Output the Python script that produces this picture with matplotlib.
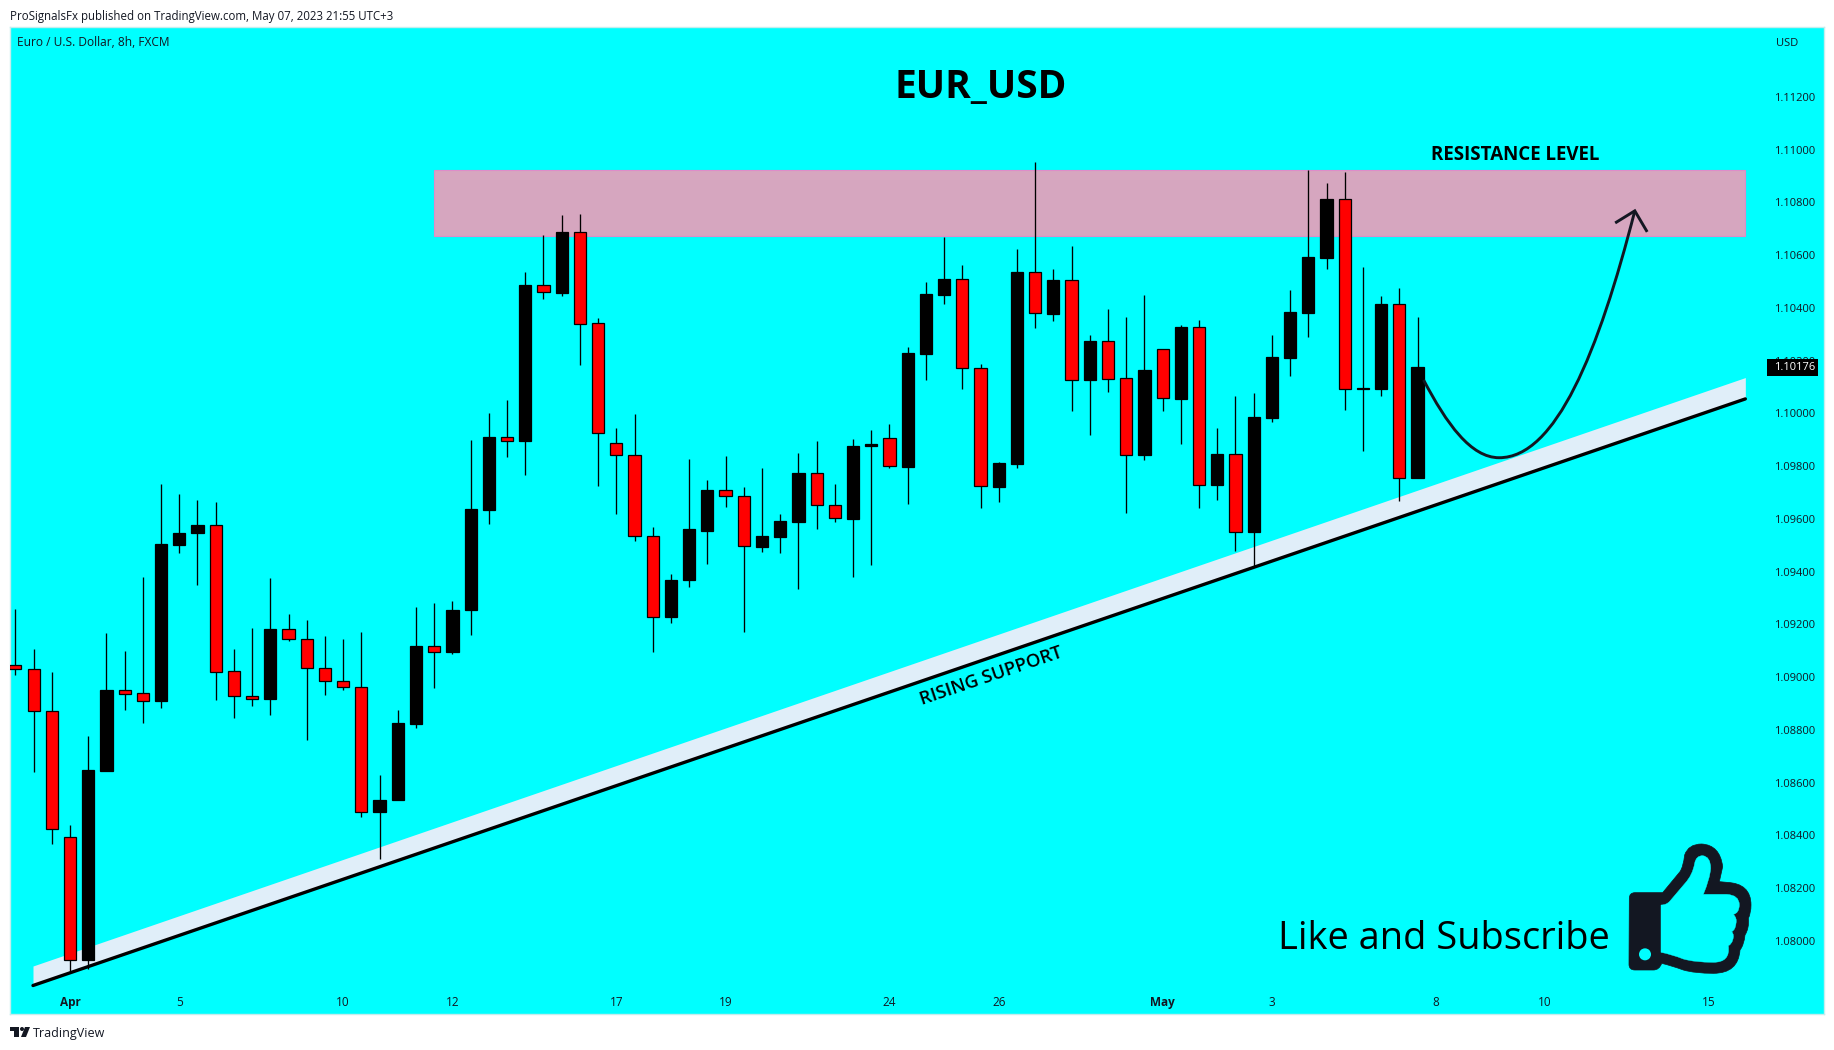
import numpy as np
import matplotlib
matplotlib.use("Agg")
import matplotlib.pyplot as plt
from matplotlib.path import Path
from matplotlib.patches import PathPatch, Rectangle, Circle, Polygon
from matplotlib.transforms import Affine2D, blended_transform_factory

W, H = 1834, 1050
CYAN = "#00FFFF"
INK = "#131722"

# candles, one per 8h bar
opens = [1.09045, 1.09030, 1.08871, 1.08393, 1.07926, 1.08646, 1.08950, 1.08939, 1.08908, 1.09502,
         1.09545, 1.09576, 1.09022, 1.08929, 1.08918, 1.09182, 1.09144, 1.09034, 1.08985, 1.08962,
         1.08487, 1.08533, 1.08824, 1.09117, 1.09094, 1.09253, 1.09635, 1.09909, 1.09895, 1.10486,
         1.10456, 1.10687, 1.10341, 1.09888, 1.09841, 1.09535, 1.09229, 1.09367, 1.09556, 1.09709,
         1.09686, 1.09494, 1.09533, 1.09589, 1.09774, 1.09653, 1.09601, 1.09875, 1.09907, 1.09798,
         1.10226, 1.10450, 1.10510, 1.10172, 1.09722, 1.09809, 1.10536, 1.10378, 1.10505, 1.10127,
         1.10274, 1.10133, 1.09843, 1.10244, 1.10055, 1.10327, 1.09727, 1.09845, 1.09549, 1.09984,
         1.10210, 1.10382, 1.10589, 1.10812, 1.10091, 1.10094, 1.10414, 1.09757]
highs = [1.09259, 1.09107, 1.09020, 1.08439, 1.08776, 1.09167, 1.09099, 1.09378, 1.09733, 1.09694,
         1.09671, 1.09663, 1.09107, 1.09186, 1.09376, 1.09240, 1.09217, 1.09157, 1.09145, 1.09172,
         1.08629, 1.08876, 1.09266, 1.09281, 1.09289, 1.09898, 1.10002, 1.10052, 1.10536, 1.10677,
         1.10752, 1.10756, 1.10362, 1.09945, 1.09999, 1.09570, 1.09390, 1.09829, 1.09749, 1.09840,
         1.09722, 1.09794, 1.09620, 1.09850, 1.09896, 1.09734, 1.09904, 1.09937, 1.09961, 1.10253,
         1.10499, 1.10669, 1.10563, 1.10189, 1.09817, 1.10624, 1.10952, 1.10549, 1.10636, 1.10299,
         1.10396, 1.10367, 1.10450, 1.10245, 1.10336, 1.10355, 1.09945, 1.10067, 1.10078, 1.10299,
         1.10469, 1.10921, 1.10874, 1.10916, 1.10556, 1.10446, 1.10477, 1.10367]
lows = [1.09009, 1.08642, 1.08369, 1.07882, 1.07892, 1.08646, 1.08876, 1.08827, 1.08884, 1.09470,
        1.09351, 1.08912, 1.08845, 1.08891, 1.08857, 1.09137, 1.08760, 1.08932, 1.08953, 1.08471,
        1.08311, 1.08533, 1.08809, 1.08959, 1.09086, 1.09160, 1.09581, 1.09835, 1.09767, 1.10433,
        1.10445, 1.10184, 1.09725, 1.09617, 1.09515, 1.09095, 1.09207, 1.09343, 1.09430, 1.09647,
        1.09173, 1.09474, 1.09470, 1.09335, 1.09563, 1.09589, 1.09378, 1.09426, 1.09794, 1.09658,
        1.10127, 1.10415, 1.10094, 1.09640, 1.09666, 1.09794, 1.10324, 1.10351, 1.10008, 1.09920,
        1.10082, 1.09624, 1.09825, 1.10008, 1.09885, 1.09643, 1.09672, 1.09479, 1.09420, 1.09968,
        1.10142, 1.10291, 1.10549, 1.10014, 1.09858, 1.10067, 1.09668, 1.09757]
closes = [1.09030, 1.08871, 1.08424, 1.07927, 1.08647, 1.08952, 1.08938, 1.08908, 1.09505, 1.09547,
          1.09577, 1.09021, 1.08927, 1.08918, 1.09184, 1.09143, 1.09034, 1.08984, 1.08961, 1.08488,
          1.08534, 1.08826, 1.09117, 1.09094, 1.09254, 1.09637, 1.09911, 1.09897, 1.10487, 1.10459,
          1.10688, 1.10340, 1.09927, 1.09841, 1.09534, 1.09230, 1.09369, 1.09560, 1.09711, 1.09685,
          1.09496, 1.09537, 1.09592, 1.09775, 1.09652, 1.09602, 1.09877, 1.09884, 1.09799, 1.10230,
          1.10454, 1.10510, 1.10171, 1.09724, 1.09813, 1.10537, 1.10379, 1.10506, 1.10128, 1.10274,
          1.10132, 1.09844, 1.10165, 1.10057, 1.10327, 1.09727, 1.09847, 1.09549, 1.09987, 1.10214,
          1.10386, 1.10593, 1.10814, 1.10091, 1.10098, 1.10415, 1.09757, 1.10177]

date_ticks = [3, 9, 18, 24, 33, 39, 48, 54, 63, 69, 78, 84, 93]
date_labels = ["Apr", "5", "10", "12", "17", "19", "24", "26", "May", "3", "8", "10", "15"]
price_ticks = [1.080, 1.082, 1.084, 1.086, 1.088, 1.090, 1.092, 1.094, 1.096, 1.098,
               1.100, 1.102, 1.104, 1.106, 1.108, 1.110, 1.112]
last_price = 1.10176

resistance_top = 1.10923
resistance_bottom = 1.10671
resistance_start = 22.99
drawing_end = 95.0
support_x = [0.966, 95.0]
support_line = [1.07831, 1.10055]
support_band = [1.07905, 1.10136]


def fx(x):
    return x / W


def fy(y):
    return 1 - y / H


plt.rcParams['font.family'] = ['Open Sans', 'DejaVu Sans']

fig = plt.figure(figsize=(W / 100, H / 100), dpi=100, facecolor="white")
ax = fig.add_axes([fx(10), fy(1014), 1814 / W, 987 / H], facecolor=CYAN)
ax.set_xlim(-0.2965, 99.32)
ax.set_ylim(1.07723, 1.11465)

# resistance zone goes under the candles
ax.add_patch(Rectangle((resistance_start, resistance_bottom), drawing_end - resistance_start,
                       resistance_top - resistance_bottom,
                       facecolor="#D6A6BF", edgecolor="#DE8CC8", linewidth=0.8, zorder=1))

# rising support band and line
ax.fill_between(support_x, support_line, support_band, color="#E0EEF9", linewidth=0, zorder=1)
ax.plot(support_x, support_line, color="black", linewidth=2.4, solid_capstyle="round", zorder=1.5)

# candles
x = np.arange(len(opens))
o = np.array(opens)
c = np.array(closes)
up = c >= o
ax.vlines(x, lows, highs, color="black", linewidth=0.95, zorder=2)
ax.bar(x[up], (c - o)[up], bottom=o[up], width=0.67, color="black", edgecolor="black",
       linewidth=0.9, zorder=3)
ax.bar(x[~up], (o - c)[~up], bottom=c[~up], width=0.67, color="#FF0000", edgecolor="black",
       linewidth=0.9, zorder=3)

# projected path with arrow head
curve_verts = [(77.33, 1.10127), (78.60, 1.09960), (79.93, 1.09832), (81.48, 1.09832),
               (84.59, 1.09832), (86.93, 1.10230), (88.93, 1.10768)]
curve_codes = [Path.MOVETO] + [Path.CURVE4] * 6
ax.add_patch(PathPatch(Path(curve_verts, curve_codes), facecolor="none", edgecolor=INK,
                       linewidth=2.1, zorder=4))
ax.plot([87.92, 88.93, 89.57], [1.10725, 1.10768, 1.10693], color=INK, linewidth=2.1,
        solid_joinstyle="miter", zorder=4)

# axes inside the panel, like the TradingView scale
ax.set_xticks(date_ticks)
ax.set_xticklabels(date_labels, fontsize=8.5, color=INK)
for lab in ax.get_xticklabels():
    if lab.get_text() in ("Apr", "May"):
        lab.set_fontweight("bold")
ax.tick_params(axis="x", length=0, pad=-13)
ax.yaxis.tick_right()
ax.set_yticks(price_ticks)
ax.set_yticklabels(["%.5f" % p for p in price_ticks], fontsize=8, color=INK)
ax.tick_params(axis="y", length=0, pad=-36)
for s in ax.spines.values():
    s.set_color("#C4EDED")
    s.set_linewidth(1)

# last price tag over the scale
trans = blended_transform_factory(ax.transAxes, ax.transData)
ax.add_patch(Rectangle((1757 / 1814, last_price - 0.00034), 51 / 1814, 0.00064, transform=trans,
                       facecolor="black", edgecolor="none", zorder=6, clip_on=False))
ax.text(1764 / 1814, last_price - 0.00002, "%.5f" % last_price, transform=trans, color="white", fontsize=8,
        va="center", ha="left", zorder=7)

# texts
fig.text(fx(10), fy(16.5), "ProSignalsFx published on TradingView.com, May 07, 2023 21:55 UTC+3",
         fontsize=8.3, color=INK, va="center")
fig.text(fx(17), fy(43), "Euro / U.S. Dollar, 8h, FXCM", fontsize=8.6, color=INK, va="center")
fig.text(fx(1776), fy(43), "USD", fontsize=8, color=INK, va="center")
fig.text(fx(981), fy(87.5), "EUR_USD", fontsize=28, fontweight="bold", color="black",
         ha="center", va="center")
fig.text(fx(1515), fy(155), "RESISTANCE LEVEL", fontsize=13.5, fontweight="bold", color="black",
         ha="center", va="center")
fig.text(fx(991), fy(676), "RISING SUPPORT", fontsize=13.3, fontweight="semibold", color="black",
         ha="center", va="center", rotation=18.8, rotation_mode="anchor")
fig.text(fx(1444), fy(939), "Like and Subscribe", fontsize=27.4, color="black", ha="center", va="center")
fig.text(fx(33), fy(1034), "TradingView", fontsize=9, color=INK, va="center")

# TradingView mark, in pixels from the top left
px = Affine2D().scale(1, -1).translate(0, H)
fig.add_artist(Rectangle((10, 1027), 9, 4, transform=px, facecolor=INK, edgecolor="none"))
fig.add_artist(Rectangle((14, 1027), 5, 10, transform=px, facecolor=INK, edgecolor="none"))
fig.add_artist(Circle((22, 1029), 2, transform=px, facecolor=INK, edgecolor="none"))
fig.add_artist(Polygon([(25, 1027), (30, 1027), (26, 1037), (21, 1037)], transform=px,
                       facecolor=INK, edgecolor="none"))

# thumbs up icon, traced in a 450 box
# one point is a straight line to it, two points are a control point and the end of a curve
thumb = Affine2D().scale(1 / 3, -1 / 3).translate(1620, H - 835)
outer = [[(28, 190)], [(28, 173), (45, 173)], [(128, 173)], [(180, 110)], [(190, 95), (194, 60)],
         [(205, 27), (245, 27)], [(300, 30), (308, 95)], [(298, 140)], [(320, 142)],
         [(393, 145), (393, 210)], [(393, 235), (385, 250)], [(388, 280), (375, 300)],
         [(372, 330), (360, 345)], [(355, 415), (280, 415)], [(225, 415), (190, 405)],
         [(155, 392), (125, 385)], [(118, 405), (100, 405)], [(45, 405)], [(27, 405), (27, 388)],
         [(28, 190)]]
inner = [[(123, 210)], [(140, 210), (150, 198)], [(195, 145)], [(218, 120), (224, 85)],
         [(228, 62), (248, 62)], [(272, 65), (272, 100)], [(270, 130), (250, 178)], [(320, 178)],
         [(358, 180), (358, 210)], [(357, 235), (340, 238)], [(352, 250), (348, 265)],
         [(346, 285), (335, 290)], [(344, 300), (338, 315)], [(335, 328), (325, 332)],
         [(332, 382), (280, 382)], [(225, 382), (190, 372)], [(155, 358), (123, 352)],
         [(123, 210)]]


def icon_path(parts):
    verts, codes = [], []
    for i, part in enumerate(parts):
        verts += part
        if i == 0:
            codes.append(Path.MOVETO)
        elif len(part) == 1:
            codes.append(Path.LINETO)
        else:
            codes += [Path.CURVE3, Path.CURVE3]
    return Path(verts, codes)


fig.add_artist(PathPatch(icon_path(outer), transform=thumb, facecolor=INK, edgecolor=INK,
                         linewidth=0.5))
fig.add_artist(PathPatch(icon_path(inner), transform=thumb, facecolor=CYAN, edgecolor=CYAN,
                         linewidth=0.3))
fig.add_artist(Circle((75, 358), 18, transform=thumb, facecolor=CYAN, edgecolor="none"))

fig.savefig("out.png", dpi=100, facecolor="white")
